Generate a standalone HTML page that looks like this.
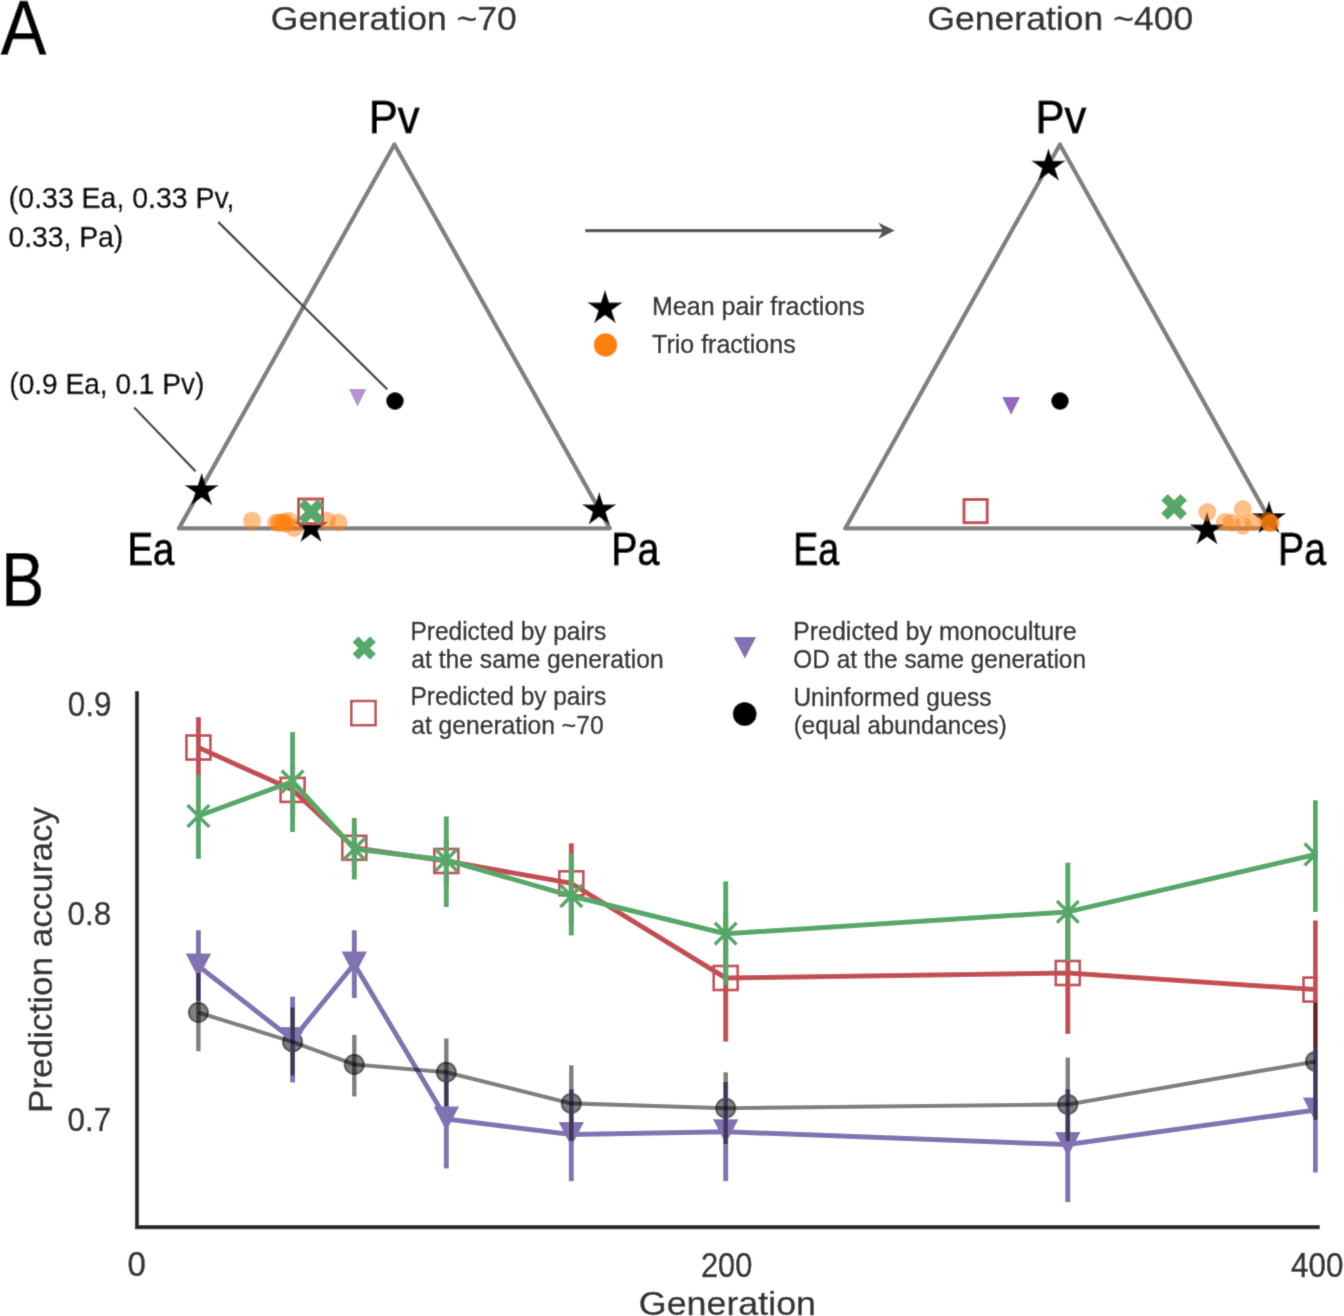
<!DOCTYPE html>
<html><head><meta charset="utf-8"><style>
html,body{margin:0;padding:0;background:#fff;}
svg{display:block;}
.tx{will-change:transform;}
text{font-family:"Liberation Sans", sans-serif;}
</style></head><body>
<svg width="1344" height="1316" viewBox="0 0 1344 1316">
<defs><filter id="soft" x="0" y="0" width="1344" height="1316" filterUnits="userSpaceOnUse"><feConvolveMatrix order="3" kernelMatrix="0.0144 0.0912 0.0144 0.0912 0.5776 0.0912 0.0144 0.0912 0.0144" edgeMode="duplicate"/></filter></defs>
<rect width="1344" height="1316" fill="#fff"/>
<g filter="url(#soft)">
<rect width="1344" height="1316" fill="#fff"/>
<polygon points="394.4,144.5 178.9,528.4 609.8,528.4" fill="none" stroke="#808080" stroke-width="4.3" stroke-linejoin="round"/>
<polygon points="1059.9,144.5 845.3,528.4 1274.5,528.4" fill="none" stroke="#808080" stroke-width="4.3" stroke-linejoin="round"/>
<line x1="218.2" y1="222" x2="387.3" y2="389.4" stroke="#4a4a4a" stroke-width="2.5"/>
<line x1="134.2" y1="407.5" x2="195.6" y2="471.3" stroke="#4a4a4a" stroke-width="2.5"/>
<line x1="585.2" y1="230.6" x2="884" y2="230.6" stroke="#555" stroke-width="3.3"/>
<polygon points="894.9,230.6 878.3,222.4 882.8,230.6 878.3,239.1" fill="#555"/>
<polygon points="348.80,389.00 366.40,389.00 357.60,406.50" fill="#9467bd" fill-opacity="0.7"/>
<circle cx="395" cy="401" r="8.9" fill="#000"/>
<polygon points="201.70,472.70 205.74,485.14 218.82,485.14 208.24,492.82 212.28,505.26 201.70,497.58 191.12,505.26 195.16,492.82 184.58,485.14 197.66,485.14" fill="#000"/>
<polygon points="599.20,492.00 603.24,504.44 616.32,504.44 605.74,512.12 609.78,524.56 599.20,516.88 588.62,524.56 592.66,512.12 582.08,504.44 595.16,504.44" fill="#000"/>
<polygon points="311.00,509.50 315.04,521.94 328.12,521.94 317.54,529.62 321.58,542.06 311.00,534.38 300.42,542.06 304.46,529.62 293.88,521.94 306.96,521.94" fill="#000"/>
<circle cx="252" cy="520.7" r="9" fill="#ff7f0e" fill-opacity="0.5"/>
<circle cx="276.1" cy="522.5" r="9" fill="#ff7f0e" fill-opacity="0.5"/>
<circle cx="279" cy="523" r="9" fill="#ff7f0e" fill-opacity="0.5"/>
<circle cx="281.4" cy="522.5" r="9" fill="#ff7f0e" fill-opacity="0.5"/>
<circle cx="284" cy="522" r="9" fill="#ff7f0e" fill-opacity="0.5"/>
<circle cx="286" cy="524" r="9" fill="#ff7f0e" fill-opacity="0.5"/>
<circle cx="288.6" cy="520.7" r="9" fill="#ff7f0e" fill-opacity="0.5"/>
<circle cx="294.4" cy="527.9" r="9" fill="#ff7f0e" fill-opacity="0.5"/>
<circle cx="327" cy="520.7" r="9" fill="#ff7f0e" fill-opacity="0.5"/>
<circle cx="338.6" cy="522.5" r="9" fill="#ff7f0e" fill-opacity="0.5"/>
<rect x="298.5" y="499" width="24" height="24.5" fill="#fff" stroke="#c44e52" stroke-width="3"/>
<polygon points="311.20,505.44 317.59,499.05 323.95,505.41 317.56,511.80 323.95,518.19 317.59,524.55 311.20,518.16 304.81,524.55 298.45,518.19 304.84,511.80 298.45,505.41 304.81,499.05" fill="#55a868"/>
<polygon points="1002.10,397.10 1020.10,397.10 1011.10,414.80" fill="#9467bd" fill-opacity="1"/>
<circle cx="1060" cy="401" r="8.9" fill="#000"/>
<polygon points="1048.50,148.30 1052.54,160.74 1065.62,160.74 1055.04,168.42 1059.08,180.86 1048.50,173.18 1037.92,180.86 1041.96,168.42 1031.38,160.74 1044.46,160.74" fill="#000"/>
<polygon points="1269.00,500.80 1273.04,513.24 1286.12,513.24 1275.54,520.92 1279.58,533.36 1269.00,525.68 1258.42,533.36 1262.46,520.92 1251.88,513.24 1264.96,513.24" fill="#000"/>
<polygon points="1207.00,512.00 1211.04,524.44 1224.12,524.44 1213.54,532.12 1217.58,544.56 1207.00,536.88 1196.42,544.56 1200.46,532.12 1189.88,524.44 1202.96,524.44" fill="#000"/>
<rect x="964" y="499.5" width="23.2" height="23.2" fill="none" stroke="#c44e52" stroke-width="3"/>
<polygon points="1174.10,500.34 1180.49,493.95 1187.00,500.46 1180.61,506.85 1187.00,513.24 1180.49,519.75 1174.10,513.36 1167.71,519.75 1161.20,513.24 1167.59,506.85 1161.20,500.46 1167.71,493.95" fill="#55a868"/>
<circle cx="1207.3" cy="512" r="9" fill="#ff7f0e" fill-opacity="0.5"/>
<circle cx="1225" cy="522" r="9" fill="#ff7f0e" fill-opacity="0.5"/>
<circle cx="1231.7" cy="522.7" r="9" fill="#ff7f0e" fill-opacity="0.5"/>
<circle cx="1242.8" cy="509" r="9" fill="#ff7f0e" fill-opacity="0.5"/>
<circle cx="1242.8" cy="525.7" r="9" fill="#ff7f0e" fill-opacity="0.5"/>
<circle cx="1253.2" cy="522" r="9" fill="#ff7f0e" fill-opacity="0.5"/>
<circle cx="1270.4" cy="523.1" r="9" fill="#ff7f0e" fill-opacity="0.5"/>
<circle cx="1270.4" cy="523.1" r="9" fill="#ff7f0e" fill-opacity="0.5"/>
<circle cx="1268" cy="521" r="9" fill="#ff7f0e" fill-opacity="0.5"/>
<polygon points="605.00,289.70 609.15,302.48 622.59,302.48 611.72,310.38 615.87,323.17 605.00,315.27 594.13,323.17 598.28,310.38 587.41,302.48 600.85,302.48" fill="#000"/>
<circle cx="605.5" cy="345" r="11.7" fill="#ff7f0e"/>
<polygon points="364.20,642.20 370.05,636.35 375.85,642.15 370.00,648.00 375.85,653.85 370.05,659.65 364.20,653.80 358.35,659.65 352.55,653.85 358.40,648.00 352.55,642.15 358.35,636.35" fill="#55a868"/>
<rect x="351.3" y="701" width="24.3" height="24.2" fill="none" stroke="#c44e52" stroke-width="2.6"/>
<polygon points="733.60,636.90 756.20,636.90 744.90,658.60" fill="#8172b2" fill-opacity="1"/>
<circle cx="744.7" cy="713.9" r="12" fill="#000"/>
<polyline points="137,691 137,1227.2 1319.8,1227.2" fill="none" stroke="#2b2b2b" stroke-width="4.2"/>
<defs><clipPath id="ax"><rect x="137" y="600" width="1180.8" height="627"/></clipPath></defs>
<g clip-path="url(#ax)">
<circle cx="198.4" cy="1012.5" r="9.7" fill="#000" fill-opacity="0.5" stroke="#000" stroke-opacity="0.5" stroke-width="2"/>
<circle cx="292.6" cy="1041.9" r="9.7" fill="#000" fill-opacity="0.5" stroke="#000" stroke-opacity="0.5" stroke-width="2"/>
<circle cx="354.3" cy="1064.5" r="9.7" fill="#000" fill-opacity="0.5" stroke="#000" stroke-opacity="0.5" stroke-width="2"/>
<circle cx="446.3" cy="1072.3" r="9.7" fill="#000" fill-opacity="0.5" stroke="#000" stroke-opacity="0.5" stroke-width="2"/>
<circle cx="571.3" cy="1103.4" r="9.7" fill="#000" fill-opacity="0.5" stroke="#000" stroke-opacity="0.5" stroke-width="2"/>
<circle cx="725.7" cy="1108.2" r="9.7" fill="#000" fill-opacity="0.5" stroke="#000" stroke-opacity="0.5" stroke-width="2"/>
<circle cx="1067.8" cy="1104.4" r="9.7" fill="#000" fill-opacity="0.5" stroke="#000" stroke-opacity="0.5" stroke-width="2"/>
<circle cx="1315.5" cy="1061.4" r="9.7" fill="#000" fill-opacity="0.5" stroke="#000" stroke-opacity="0.5" stroke-width="2"/>
<polyline points="198.4,966 292.6,1039.5 354.3,964 446.3,1119 571.3,1134.5 725.7,1131.7 1067.8,1144.6 1315.5,1110" fill="none" stroke="#8172b2" stroke-width="5.0" stroke-opacity="1" stroke-linejoin="round"/>
<line x1="198.4" y1="930.2" x2="198.4" y2="1001.3" stroke="#8172b2" stroke-width="5.0" stroke-opacity="1"/>
<line x1="292.6" y1="996.6" x2="292.6" y2="1082.5" stroke="#8172b2" stroke-width="5.0" stroke-opacity="1"/>
<line x1="354.3" y1="930.2" x2="354.3" y2="998.1" stroke="#8172b2" stroke-width="5.0" stroke-opacity="1"/>
<line x1="446.3" y1="1070" x2="446.3" y2="1168.4" stroke="#8172b2" stroke-width="5.0" stroke-opacity="1"/>
<line x1="571.3" y1="1089.3" x2="571.3" y2="1181.2" stroke="#8172b2" stroke-width="5.0" stroke-opacity="1"/>
<line x1="725.7" y1="1082" x2="725.7" y2="1181.2" stroke="#8172b2" stroke-width="5.0" stroke-opacity="1"/>
<line x1="1067.8" y1="1089.2" x2="1067.8" y2="1202.1" stroke="#8172b2" stroke-width="5.0" stroke-opacity="1"/>
<line x1="1315.5" y1="1047" x2="1315.5" y2="1172.5" stroke="#8172b2" stroke-width="5.0" stroke-opacity="1"/>
<polygon points="185.65,953.50 211.15,953.50 198.40,978.00" fill="#8172b2" fill-opacity="1"/>
<polygon points="279.85,1027.00 305.35,1027.00 292.60,1051.50" fill="#8172b2" fill-opacity="1"/>
<polygon points="341.55,951.50 367.05,951.50 354.30,976.00" fill="#8172b2" fill-opacity="1"/>
<polygon points="433.55,1106.50 459.05,1106.50 446.30,1131.00" fill="#8172b2" fill-opacity="1"/>
<polygon points="558.55,1122.00 584.05,1122.00 571.30,1146.50" fill="#8172b2" fill-opacity="1"/>
<polygon points="712.95,1119.20 738.45,1119.20 725.70,1143.70" fill="#8172b2" fill-opacity="1"/>
<polygon points="1055.05,1132.10 1080.55,1132.10 1067.80,1156.60" fill="#8172b2" fill-opacity="1"/>
<polygon points="1302.75,1097.50 1328.25,1097.50 1315.50,1122.00" fill="#8172b2" fill-opacity="1"/>
<polyline points="198.4,747.5 292.6,789.9 354.3,847.8 446.3,861 571.3,883.3 725.7,978 1067.8,973 1315.5,989.6" fill="none" stroke="#c44e52" stroke-width="5.0" stroke-opacity="1" stroke-linejoin="round"/>
<line x1="198.4" y1="717" x2="198.4" y2="778" stroke="#c44e52" stroke-width="5.0" stroke-opacity="1"/>
<line x1="292.6" y1="765" x2="292.6" y2="815" stroke="#c44e52" stroke-width="5.0" stroke-opacity="1"/>
<line x1="354.3" y1="830" x2="354.3" y2="866" stroke="#c44e52" stroke-width="5.0" stroke-opacity="1"/>
<line x1="446.3" y1="840" x2="446.3" y2="885" stroke="#c44e52" stroke-width="5.0" stroke-opacity="1"/>
<line x1="571.3" y1="843.2" x2="571.3" y2="923.4" stroke="#c44e52" stroke-width="5.0" stroke-opacity="1"/>
<line x1="725.7" y1="914" x2="725.7" y2="1041.6" stroke="#c44e52" stroke-width="5.0" stroke-opacity="1"/>
<line x1="1067.8" y1="912" x2="1067.8" y2="1034" stroke="#c44e52" stroke-width="5.0" stroke-opacity="1"/>
<line x1="1315.5" y1="920.4" x2="1315.5" y2="1047" stroke="#c44e52" stroke-width="5.0" stroke-opacity="1"/>
<rect x="186.40" y="735.50" width="24" height="24" fill="none" stroke="#c44e52" stroke-width="2.7"/>
<rect x="280.60" y="777.90" width="24" height="24" fill="none" stroke="#c44e52" stroke-width="2.7"/>
<rect x="342.30" y="835.80" width="24" height="24" fill="none" stroke="#c44e52" stroke-width="2.7"/>
<rect x="434.30" y="849.00" width="24" height="24" fill="none" stroke="#c44e52" stroke-width="2.7"/>
<rect x="559.30" y="871.30" width="24" height="24" fill="none" stroke="#c44e52" stroke-width="2.7"/>
<rect x="713.70" y="966.00" width="24" height="24" fill="none" stroke="#c44e52" stroke-width="2.7"/>
<rect x="1055.80" y="961.00" width="24" height="24" fill="none" stroke="#c44e52" stroke-width="2.7"/>
<rect x="1303.50" y="977.60" width="24" height="24" fill="none" stroke="#c44e52" stroke-width="2.7"/>
<polyline points="198.4,816 292.6,781.5 354.3,849 446.3,860 571.3,896 725.7,933.7 1067.8,911.9 1315.5,854.5" fill="none" stroke="#55a868" stroke-width="5.0" stroke-opacity="1" stroke-linejoin="round"/>
<line x1="198.4" y1="775" x2="198.4" y2="858.9" stroke="#55a868" stroke-width="5.0" stroke-opacity="1"/>
<line x1="292.6" y1="732.1" x2="292.6" y2="832.1" stroke="#55a868" stroke-width="5.0" stroke-opacity="1"/>
<line x1="354.3" y1="817.9" x2="354.3" y2="879.5" stroke="#55a868" stroke-width="5.0" stroke-opacity="1"/>
<line x1="446.3" y1="816.4" x2="446.3" y2="907.1" stroke="#55a868" stroke-width="5.0" stroke-opacity="1"/>
<line x1="571.3" y1="853.6" x2="571.3" y2="935.4" stroke="#55a868" stroke-width="5.0" stroke-opacity="1"/>
<line x1="725.7" y1="881.3" x2="725.7" y2="984.6" stroke="#55a868" stroke-width="5.0" stroke-opacity="1"/>
<line x1="1067.8" y1="862.6" x2="1067.8" y2="961" stroke="#55a868" stroke-width="5.0" stroke-opacity="1"/>
<line x1="1315.5" y1="800.2" x2="1315.5" y2="911.9" stroke="#55a868" stroke-width="5.0" stroke-opacity="1"/>
<path d="M187.50,805.10L209.30,826.90M187.50,826.90L209.30,805.10" stroke="#55a868" stroke-width="3.6"/>
<path d="M281.70,770.60L303.50,792.40M281.70,792.40L303.50,770.60" stroke="#55a868" stroke-width="3.6"/>
<path d="M343.40,838.10L365.20,859.90M343.40,859.90L365.20,838.10" stroke="#55a868" stroke-width="3.6"/>
<path d="M435.40,849.10L457.20,870.90M435.40,870.90L457.20,849.10" stroke="#55a868" stroke-width="3.6"/>
<path d="M560.40,885.10L582.20,906.90M560.40,906.90L582.20,885.10" stroke="#55a868" stroke-width="3.6"/>
<path d="M714.80,922.80L736.60,944.60M714.80,944.60L736.60,922.80" stroke="#55a868" stroke-width="3.6"/>
<path d="M1056.90,901.00L1078.70,922.80M1056.90,922.80L1078.70,901.00" stroke="#55a868" stroke-width="3.6"/>
<path d="M1304.60,843.60L1326.40,865.40M1304.60,865.40L1326.40,843.60" stroke="#55a868" stroke-width="3.6"/>
<polyline points="198.4,1012.5 292.6,1041.9 354.3,1064.5 446.3,1072.3 571.3,1103.4 725.7,1108.2 1067.8,1104.4 1315.5,1061.4" fill="none" stroke="#000" stroke-opacity="0.5" stroke-width="4.1" stroke-linejoin="round"/>
<line x1="198.4" y1="973" x2="198.4" y2="1051.25" stroke="#000" stroke-opacity="0.5" stroke-width="4.5"/>
<line x1="292.6" y1="1007.5" x2="292.6" y2="1075.5" stroke="#000" stroke-opacity="0.5" stroke-width="4.5"/>
<line x1="354.3" y1="1034.8" x2="354.3" y2="1096.5" stroke="#000" stroke-opacity="0.5" stroke-width="4.5"/>
<line x1="446.3" y1="1038.4" x2="446.3" y2="1106.2" stroke="#000" stroke-opacity="0.5" stroke-width="4.5"/>
<line x1="571.3" y1="1065.2" x2="571.3" y2="1141" stroke="#000" stroke-opacity="0.5" stroke-width="4.5"/>
<line x1="725.7" y1="1072.3" x2="725.7" y2="1144" stroke="#000" stroke-opacity="0.5" stroke-width="4.5"/>
<line x1="1067.8" y1="1057.6" x2="1067.8" y2="1141.2" stroke="#000" stroke-opacity="0.5" stroke-width="4.5"/>
<line x1="1315.5" y1="1002.8" x2="1315.5" y2="1120" stroke="#000" stroke-opacity="0.5" stroke-width="4.5"/>
</g>
<g class="tx" style="opacity:0.999">
<text transform="translate(0.80 54.70) scale(0.8830 1)" font-size="77.37" fill="#000" stroke="#000" stroke-width="0.68" stroke-linejoin="round">A</text>
<text transform="translate(1.36 605.50) scale(0.8499 1)" font-size="75.95" fill="#000" stroke="#000" stroke-width="0.71" stroke-linejoin="round">B</text>
<text transform="translate(270.83 30.10) scale(1.0824 1)" font-size="32.85" fill="#333" stroke="#333" stroke-width="0.42" stroke-linejoin="round">Generation ~70</text>
<text transform="translate(927.33 30.10) scale(1.0686 1)" font-size="33.28" fill="#333" stroke="#333" stroke-width="0.42" stroke-linejoin="round">Generation ~400</text>
<text transform="translate(368.81 133.30) scale(0.9312 1)" font-size="46.65" fill="#000" stroke="#000" stroke-width="1.07" stroke-linejoin="round">Pv</text>
<text transform="translate(127.50 565.20) scale(0.8255 1)" font-size="46.51" fill="#000" stroke="#000" stroke-width="1.21" stroke-linejoin="round">Ea</text>
<text transform="translate(611.23 565.20) scale(0.8441 1)" font-size="46.51" fill="#000" stroke="#000" stroke-width="1.18" stroke-linejoin="round">Pa</text>
<text transform="translate(1035.41 133.30) scale(0.9312 1)" font-size="46.65" fill="#000" stroke="#000" stroke-width="1.07" stroke-linejoin="round">Pv</text>
<text transform="translate(793.18 565.10) scale(0.8074 1)" font-size="46.36" fill="#000" stroke="#000" stroke-width="1.24" stroke-linejoin="round">Ea</text>
<text transform="translate(1278.03 564.70) scale(0.8519 1)" font-size="46.08" fill="#000" stroke="#000" stroke-width="1.17" stroke-linejoin="round">Pa</text>
<text transform="translate(8.87 208.10) scale(0.9812 1)" font-size="29.01" fill="#000" stroke="#000" stroke-width="0.46" stroke-linejoin="round">(0.33 Ea, 0.33 Pv,</text>
<text transform="translate(8.42 247.20) scale(0.9707 1)" font-size="29.16" fill="#000" stroke="#000" stroke-width="0.46" stroke-linejoin="round">0.33, Pa)</text>
<text transform="translate(9.28 393.60) scale(0.9635 1)" font-size="29.16" fill="#000" stroke="#000" stroke-width="0.47" stroke-linejoin="round">(0.9 Ea, 0.1 Pv)</text>
<text transform="translate(651.94 315.00) scale(1.0061 1)" font-size="24.89" fill="#333" stroke="#333" stroke-width="0.45" stroke-linejoin="round">Mean pair fractions</text>
<text transform="translate(652.11 352.80) scale(1.0046 1)" font-size="24.89" fill="#333" stroke="#333" stroke-width="0.45" stroke-linejoin="round">Trio fractions</text>
<text transform="translate(410.49 639.70) scale(0.9833 1)" font-size="24.89" fill="#333" stroke="#333" stroke-width="0.46" stroke-linejoin="round">Predicted by pairs</text>
<text transform="translate(411.23 667.80) scale(0.9924 1)" font-size="24.89" fill="#333" stroke="#333" stroke-width="0.45" stroke-linejoin="round">at the same generation</text>
<text transform="translate(410.49 705.40) scale(0.9833 1)" font-size="24.89" fill="#333" stroke="#333" stroke-width="0.46" stroke-linejoin="round">Predicted by pairs</text>
<text transform="translate(411.23 733.50) scale(0.9900 1)" font-size="24.89" fill="#333" stroke="#333" stroke-width="0.45" stroke-linejoin="round">at generation ~70</text>
<text transform="translate(793.05 639.70) scale(1.0051 1)" font-size="24.89" fill="#333" stroke="#333" stroke-width="0.45" stroke-linejoin="round">Predicted by monoculture</text>
<text transform="translate(793.36 667.70) scale(0.9795 1)" font-size="24.89" fill="#333" stroke="#333" stroke-width="0.46" stroke-linejoin="round">OD at the same generation</text>
<text transform="translate(793.47 705.60) scale(0.9807 1)" font-size="24.89" fill="#333" stroke="#333" stroke-width="0.46" stroke-linejoin="round">Uninformed guess</text>
<text transform="translate(793.77 733.60) scale(0.9680 1)" font-size="24.89" fill="#333" stroke="#333" stroke-width="0.46" stroke-linejoin="round">(equal abundances)</text>
<text transform="translate(67.77 716.40) scale(0.9195 1)" font-size="34.28" fill="#333" stroke="#333" stroke-width="0.49" stroke-linejoin="round">0.9</text>
<text transform="translate(67.42 924.50) scale(0.9300 1)" font-size="33.85" fill="#333" stroke="#333" stroke-width="0.48" stroke-linejoin="round">0.8</text>
<text transform="translate(67.42 1131.00) scale(0.9339 1)" font-size="33.71" fill="#333" stroke="#333" stroke-width="0.48" stroke-linejoin="round">0.7</text>
<text transform="translate(127.57 1276.40) scale(0.9628 1)" font-size="34.28" fill="#333" stroke="#333" stroke-width="0.47" stroke-linejoin="round">0</text>
<text transform="translate(700.96 1276.60) scale(0.8825 1)" font-size="34.84" fill="#333" stroke="#333" stroke-width="0.51" stroke-linejoin="round">200</text>
<text transform="translate(1291.11 1276.70) scale(0.8918 1)" font-size="35.13" fill="#333" stroke="#333" stroke-width="0.50" stroke-linejoin="round">400</text>
<text transform="translate(638.82 1315.00) scale(1.0625 1)" font-size="33.71" fill="#333" stroke="#333" stroke-width="0.42" stroke-linejoin="round">Generation</text>
<text transform="translate(52.00 1112.94) rotate(-90) scale(1.0278 1)" font-size="34.13" fill="#333" stroke="#333" stroke-width="0.44">Prediction accuracy</text>
</g>
</g>
</svg>
</body></html>
